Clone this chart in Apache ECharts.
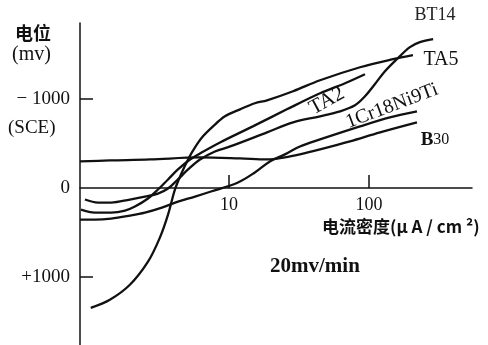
<!DOCTYPE html>
<html><head><meta charset="utf-8">
<script src="https://cdn.jsdelivr.net/npm/echarts@6/dist/echarts.min.js"></script>
<style>html,body{margin:0;padding:0;background:#fff}#c{width:488px;height:345px}</style>
</head><body><div id="c"></div>
<script>
// current density (μA/cm²) , potential (mV vs SCE)
const seriesNames = ['TA5', 'TA2', 'BT14', '1Cr18Ni9Ti', 'B30'];
const ta5 = [[1.03,1343],[1.41,1253],[1.96,1085],[2.64,826],[3.21,556],[3.67,298],[4.11,17],[4.54,-152],[5.10,-320],[5.72,-455],[6.52,-579],[7.69,-691],[9.36,-804],[12.0,-882],[15.3,-950],[18.7,-983],[28.7,-1085],[44.7,-1208],[86.3,-1354],[148,-1444],[206,-1489]];
const ta2 = [[0.877,242],[1.10,275],[1.44,275],[1.81,253],[2.13,208],[2.64,118],[3.11,17],[3.67,-96],[4.32,-208],[5.27,-320],[6.21,-388],[8.63,-511],[14.8,-691],[25.9,-882],[44.7,-1062],[67.4,-1175],[93.6,-1276]];
const bt14 = [[0.936,129],[1.16,163],[1.44,163],[1.96,129],[2.51,96],[3.11,62],[3.67,6],[4.32,-96],[5.10,-208],[6.21,-320],[7.94,-410],[10.2,-466],[18.7,-624],[28.7,-736],[44.7,-804],[62.1,-860],[79.4,-927],[93.6,-1028],[110,-1163],[130,-1309],[158,-1444],[196,-1579],[231,-1635],[287,-1669]];
const cr18 = [[0.863,354],[1.10,354],[1.44,343],[1.96,309],[2.51,275],[3.32,219],[4.32,152],[5.72,96],[7.44,39],[11.6,-62],[15.3,-174],[19.6,-298],[25.1,-377],[32.1,-466],[44.7,-545],[86.3,-691],[141,-792],[220,-860]];
const b30 = [[0.863,-298],[1.41,-309],[2.73,-320],[6.21,-343],[12.0,-332],[18.7,-320],[25.1,-343],[32.1,-377],[44.7,-433],[73.1,-523],[120,-624],[220,-736]];
const xTickValues = [10, 100];
const yTickValues = [-1000, 1000];
const yLabelValues = [-1000, 0, 1000];

const serif = '"Liberation Serif","DejaVu Serif",serif';
const cjk = '"Noto Sans CJK SC",sans-serif';
const chart = echarts.init(document.getElementById('c'));
const allData = [ta5, ta2, bt14, cr18, b30];
const staticGraphics = [
  {type: 'text', x: 15, y: 33, style: {text: '电位', font: 'bold 18px ' + cjk, fill: '#111', verticalAlign: 'middle'}},
  {type: 'text', x: 12, y: 55, style: {text: '(mv)', font: '20px ' + serif, fill: '#111', verticalAlign: 'middle'}},
  {type: 'text', x: 8, y: 128, style: {text: '(SCE)', font: '19px ' + serif, fill: '#111', verticalAlign: 'middle'}},
  {type: 'text', x: 322, y: 227, style: {text: '电流密度(μ A / cm ²)', font: 'bold 17px ' + cjk, fill: '#111', verticalAlign: 'middle'}},
  {type: 'text', x: 270, y: 267, style: {text: '20mv/min', font: 'bold 21px ' + serif, fill: '#111', verticalAlign: 'middle'}},
  {type: 'text', x: 435, y: 15, style: {text: 'BT14', font: '18px ' + serif, fill: '#222', align: 'center', verticalAlign: 'middle'}},
  {type: 'text', x: 441, y: 60, style: {text: 'TA5', font: '20px ' + serif, fill: '#111', align: 'center', verticalAlign: 'middle'}},
  {type: 'text', x: 327, y: 101, rotation: 0.5, style: {text: 'TA2', font: '21px ' + serif, fill: '#111', align: 'center', verticalAlign: 'middle'}},
  {type: 'text', x: 392, y: 106, rotation: 0.36, style: {text: '1Cr18Ni9Ti', font: '20px ' + serif, fill: '#111', align: 'center', verticalAlign: 'middle'}},
  {type: 'text', x: 435, y: 140, style: {text: '{a|B}{b|30}', rich: {a: {font: 'bold 19px ' + serif, fill: '#111'}, b: {font: '16px ' + serif, fill: '#111'}}, align: 'center', verticalAlign: 'middle'}}
];
chart.setOption({
  animation: false,
  grid: {left: 80, right: 16, top: 23, bottom: 0, outerBoundsMode: 'none'},
  xAxis: {
    type: 'log', logBase: 10, min: 0.863, max: 544,
    axisLine: {onZero: true, lineStyle: {color: '#111', width: 1.5}},
    axisTick: {show: true, inside: true, length: 13, customValues: xTickValues, lineStyle: {color: '#111', width: 1.5}},
    axisLabel: {show: false},
    splitLine: {show: false}, minorTick: {show: false}
  },
  yAxis: {
    type: 'value', inverse: true, min: -1850, max: 1760,
    axisLine: {show: true, lineStyle: {color: '#111', width: 1.5}},
    axisTick: {show: true, inside: true, length: 13, customValues: yTickValues, lineStyle: {color: '#111', width: 1.5}},
    axisLabel: {customValues: yLabelValues, margin: 10, color: '#111', fontFamily: serif, fontSize: 19,
      formatter: v => v < 0 ? '\u2212 ' + (-v) : (v > 0 ? '+' + v : '0')},
    splitLine: {show: false}
  },
  series: allData.map((d, i) => ({
    name: seriesNames[i], type: 'line', data: d, smooth: 0.35, showSymbol: false,
    lineStyle: {color: '#111', width: 2.3}, silent: true
  })),
  graphic: staticGraphics
});
// x-axis tick labels placed through the axis scale
const xLabelGraphics = xTickValues.map(v => {
  const p = chart.convertToPixel({gridIndex: 0}, [v, 0]);
  return {type: 'text', x: p[0], y: p[1] + 8, style: {text: String(v), font: '18px ' + serif, fill: '#111', align: 'center', verticalAlign: 'top'}};
});
chart.setOption({graphic: staticGraphics.concat(xLabelGraphics)});
</script></body></html>
